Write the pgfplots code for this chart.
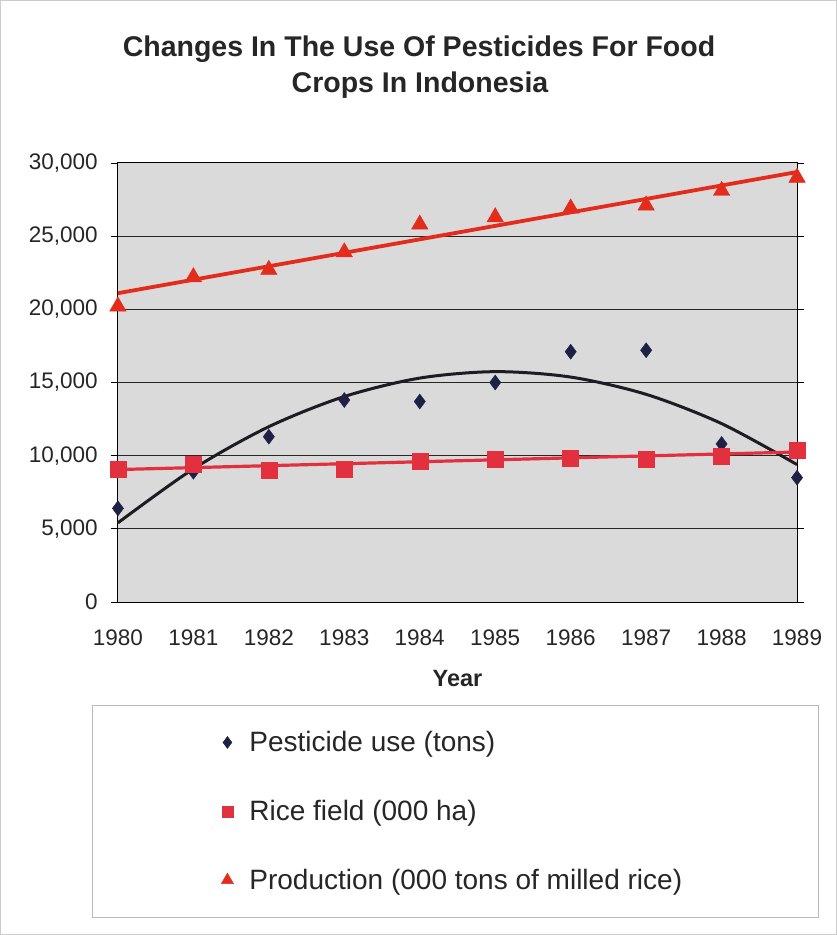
\documentclass[border=0pt]{standalone}
\usepackage{fontspec}
\setmainfont{Liberation Sans}
\usepackage{pgfplots}
\pgfplotsset{compat=1.18}

\definecolor{navyMark}{RGB}{30,32,70}
\definecolor{curveBlack}{RGB}{28,28,34}
\definecolor{fieldRed}{RGB}{226,48,62}
\definecolor{prodRed}{RGB}{228,44,28}
\definecolor{plotGray}{RGB}{218,218,218}

\begin{document}
\begin{tikzpicture}
% page frame
\draw[gray!40, line width=0.8pt] (0.5pt,0.5pt) rectangle (836.5pt,934.5pt);

% title
\node[font=\fontsize{28.5}{34}\selectfont\bfseries, text=black!85, anchor=base, inner sep=0pt]
  at (419pt,878pt) {Changes In The Use Of Pesticides For Food};
\node[font=\fontsize{28.5}{34}\selectfont\bfseries, text=black!85, anchor=base, inner sep=0pt]
  at (420pt,842pt) {Crops In Indonesia};

% legend frame
\draw[gray!55, line width=0.8pt] (92pt,18pt) rectangle (818pt,230pt);

\begin{axis}[
  at={(118pt,333pt)}, anchor=south west,
  scale only axis, width=679pt, height=439pt,
  xmin=1980, xmax=1989, ymin=0, ymax=30000,
  clip=false,
  axis background/.style={fill=plotGray},
  axis line style={black, line width=1pt},
  xtick={1980,...,1989}, ytick={0,5000,...,30000},
  tick align=outside, major tick length=7pt,
  ytick style={black, line width=0.8pt},
  xtick style={draw=none},
  ymajorgrids, grid style={black!85, line width=0.9pt},
  scaled y ticks=false,
  /pgf/number format/.cd, 1000 sep={,}, assume math mode=true,
  /pgfplots/.cd,
  xticklabel={\pgfmathprintnumber[1000 sep={}]{\tick}},
  tick label style={font=\fontsize{22.5}{26}\selectfont, text=black!85},
  xticklabel style={anchor=center, inner sep=0pt, yshift=-29pt},
  yticklabel style={anchor=east, inner sep=0pt, xshift=-13pt},
  xlabel={Year},
  xlabel style={font=\fontsize{23.5}{26}\selectfont\bfseries, text=black!85,
    at={(axis description cs:0.5,0)}, anchor=center, yshift=-76pt},
  legend style={at={(rel axis cs:0.152,-0.29)}, anchor=north west,
    draw=none, fill=none, inner sep=0pt, row sep=43pt,
    font=\fontsize{28}{32}\selectfont, text=black!85,
    nodes={inner xsep=3pt}},
  legend cell align=left,
  legend image code/.code={\draw[#1] plot coordinates {(0pt,0pt)};
    \path[draw=none, fill=none] (0pt,0pt) -- (19pt,0pt);},
]

% pesticide use (tons)
\addplot[only marks, mark=diamond*, mark size=7.5pt, color=navyMark,
  legend image post style={mark size=6pt}]
  coordinates {(1980,6400) (1981,8900) (1982,11300) (1983,13800) (1984,13700)
               (1985,15000) (1986,17100) (1987,17200) (1988,10800) (1989,8500)};
\addlegendentry{Pesticide use (tons)}

% rice field (000 ha)
\addplot[only marks, mark=square*, mark size=8pt, color=fieldRed,
  legend image post style={mark size=5.5pt}]
  coordinates {(1980,9100) (1981,9400) (1982,9000) (1983,9100) (1984,9640)
               (1985,9770) (1986,9840) (1987,9770) (1988,9980) (1989,10390)};
\addlegendentry{Rice field (000 ha)}

% production (000 tons of milled rice)
\addplot[only marks, mark=triangle*, mark size=9.5pt, color=prodRed,
  legend image post style={mark size=7pt}]
  coordinates {(1980,20200) (1981,22200) (1982,22700) (1983,23900) (1984,25800)
               (1985,26300) (1986,26900) (1987,27100) (1988,28100) (1989,29000)};
\addlegendentry{Production (000 tons of milled rice)}

% trend lines
\addplot[forget plot, no marks, smooth, color=curveBlack, line width=3pt]
  coordinates {(1980,5410) (1981,9100) (1982,11980) (1983,14040) (1984,15300)
               (1985,15740) (1986,15370) (1987,14190) (1988,12190) (1989,9390)};
\addplot[forget plot, no marks, color=fieldRed, line width=3.2pt]
  coordinates {(1980,9050) (1989,10250)};
\addplot[forget plot, no marks, color=prodRed, line width=3.8pt]
  coordinates {(1980,21100) (1989,29380)};
\end{axis}
\end{tikzpicture}
\end{document}
